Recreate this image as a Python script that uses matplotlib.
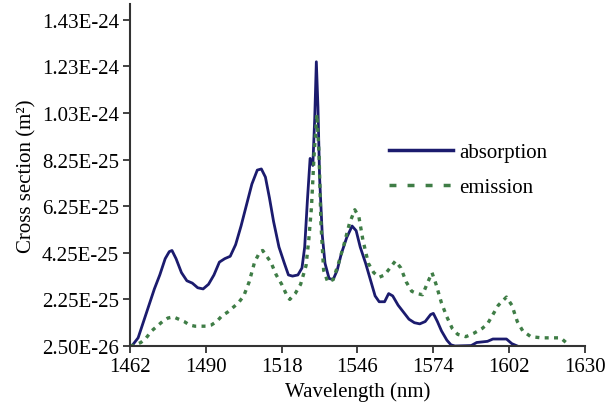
import matplotlib
matplotlib.use("Agg")
import matplotlib.pyplot as plt
from matplotlib.lines import Line2D
import numpy as np

plt.rcParams['font.family'] = ['Liberation Serif', 'DejaVu Serif']

# absorption spectrum (wavelength in nm, cross section in 1e-25 m^2)
abs_wl = [1462, 1463, 1465, 1467, 1469, 1471, 1473, 1475, 1476.5, 1477.5, 1479, 1481,
          1483, 1485, 1487, 1489, 1491, 1493, 1495, 1497, 1499, 1501, 1503, 1505, 1507,
          1509, 1510.5, 1512, 1513.5, 1515, 1517, 1519, 1520.5, 1522, 1524, 1525.5,
          1526.5, 1527.5, 1528.5, 1529.5, 1530.2, 1530.8, 1531.4, 1532, 1533, 1534,
          1535.5, 1537, 1538.5, 1540, 1542, 1544, 1545.5, 1547, 1549, 1551, 1552.5,
          1554, 1556, 1557.5, 1559, 1561, 1563, 1565, 1567, 1569, 1571, 1573, 1574,
          1575.5, 1577, 1579, 1580.5, 1582, 1588, 1590, 1594, 1596, 1601, 1603, 1605]
abs_cs = [0.25, 0.3, 0.6, 1.3, 2.0, 2.7, 3.3, 4.0, 4.3, 4.35, 4.0, 3.4,
          3.05, 2.95, 2.75, 2.7, 2.9, 3.3, 3.85, 4.0, 4.1, 4.6, 5.4, 6.3, 7.2,
          7.8, 7.85, 7.5, 6.6, 5.6, 4.5, 3.8, 3.3, 3.25, 3.3, 3.6,
          4.5, 6.5, 8.3, 8.0, 10.0, 12.45, 10.5, 7.5, 5.0, 3.8,
          3.15, 3.1, 3.5, 4.2, 4.9, 5.4, 5.2, 4.5, 3.8, 3.0, 2.4,
          2.15, 2.15, 2.5, 2.4, 2.0, 1.7, 1.4, 1.25, 1.2, 1.3, 1.6, 1.65,
          1.3, 0.9, 0.5, 0.3, 0.25, 0.27, 0.4, 0.45, 0.55, 0.55, 0.35, 0.25]

# emission spectrum
emi_wl = [1462, 1464, 1466, 1468, 1470, 1472, 1474, 1476, 1478, 1480, 1482, 1484,
          1486, 1488, 1490, 1492, 1494, 1496, 1498, 1500, 1502, 1504, 1506, 1508,
          1510, 1511, 1512.5, 1514, 1516, 1518, 1520, 1521, 1523, 1525, 1527, 1528,
          1529, 1530, 1531, 1531.8, 1532.5, 1533.5, 1535, 1537, 1539, 1541, 1543,
          1545, 1546.5, 1548, 1550, 1552, 1554, 1556, 1558, 1560, 1562, 1564, 1566,
          1568, 1570, 1572, 1573.5, 1575, 1577, 1579, 1581, 1583, 1586, 1589, 1592,
          1594, 1596, 1598, 1601, 1603, 1605, 1607, 1610, 1614, 1618, 1621, 1624]
emi_cs = [0.25, 0.3, 0.4, 0.6, 0.9, 1.1, 1.3, 1.45, 1.5, 1.4, 1.3, 1.15,
          1.1, 1.1, 1.1, 1.15, 1.3, 1.55, 1.7, 1.9, 2.1, 2.4, 3.0, 3.85,
          4.3, 4.35, 4.1, 3.85, 3.3, 2.9, 2.4, 2.25, 2.5, 2.9, 3.7, 4.8,
          6.2, 8.5, 10.2, 8.5, 5.5, 3.5, 3.0, 3.1, 3.8, 4.6, 5.5,
          6.1, 5.8, 4.8, 3.8, 3.4, 3.2, 3.3, 3.6, 3.9, 3.6, 3.0, 2.6,
          2.5, 2.45, 3.0, 3.4, 2.9, 2.1, 1.5, 1.0, 0.75, 0.65, 0.8, 1.0,
          1.2, 1.6, 2.0, 2.35, 2.0, 1.3, 0.9, 0.65, 0.6, 0.6, 0.6, 0.3]

x_ticks = [1462, 1490, 1518, 1546, 1574, 1602, 1630]
y_ticks = [2.5e-26 + k * 2e-25 for k in range(8)]
y_labels = ["2.50E-26", "2.25E-25", "4.25E-25", "6.25E-25",
            "8.25E-25", "1.03E-24", "1.23E-24", "1.43E-24"]

navy = "#1b1b6e"
green = "#3f7d46"

fig = plt.figure(figsize=(6.08, 4.14), dpi=100)
ax = fig.add_axes([130 / 608, 67 / 414, 455 / 608, 342 / 414])

ax.plot(abs_wl, np.array(abs_cs) * 1e-25, color=navy, lw=2.0)
ax.plot(emi_wl, np.array(emi_cs) * 1e-25, color=green, lw=2.4,
        linestyle=(0, (1.2, 1.6)))

ax.set_xlim(1462, 1630)
ax.set_ylim(2.5e-26, 1.493e-24)
ax.set_xticks(x_ticks)
ax.set_xticklabels([str(t) for t in x_ticks])
ax.set_yticks(y_ticks)
ax.set_yticklabels(y_labels)

for s in ["top", "right"]:
    ax.spines[s].set_visible(False)
for s in ["left", "bottom"]:
    ax.spines[s].set_color("#333333")
    ax.spines[s].set_linewidth(1.5)
ax.tick_params(direction="out", length=5, width=1.3, color="#333333",
               labelsize=15, pad=3)

ax.set_xlabel("Wavelength (nm)", fontsize=15, labelpad=4)
ax.set_ylabel("Cross section (m²)", fontsize=15, labelpad=4)

handles = [Line2D([], [], color=navy, lw=2.5),
           Line2D([], [], color=green, lw=2.5, linestyle=(0, (2.0, 3.2)))]
ax.legend(handles, ["absorption", "emission"], frameon=False, fontsize=15,
          handlelength=3.1, handletextpad=0.3, labelspacing=0.75,
          loc="upper left", bbox_to_anchor=(0.527, 0.65))

fig.savefig("out.png", dpi=100)
